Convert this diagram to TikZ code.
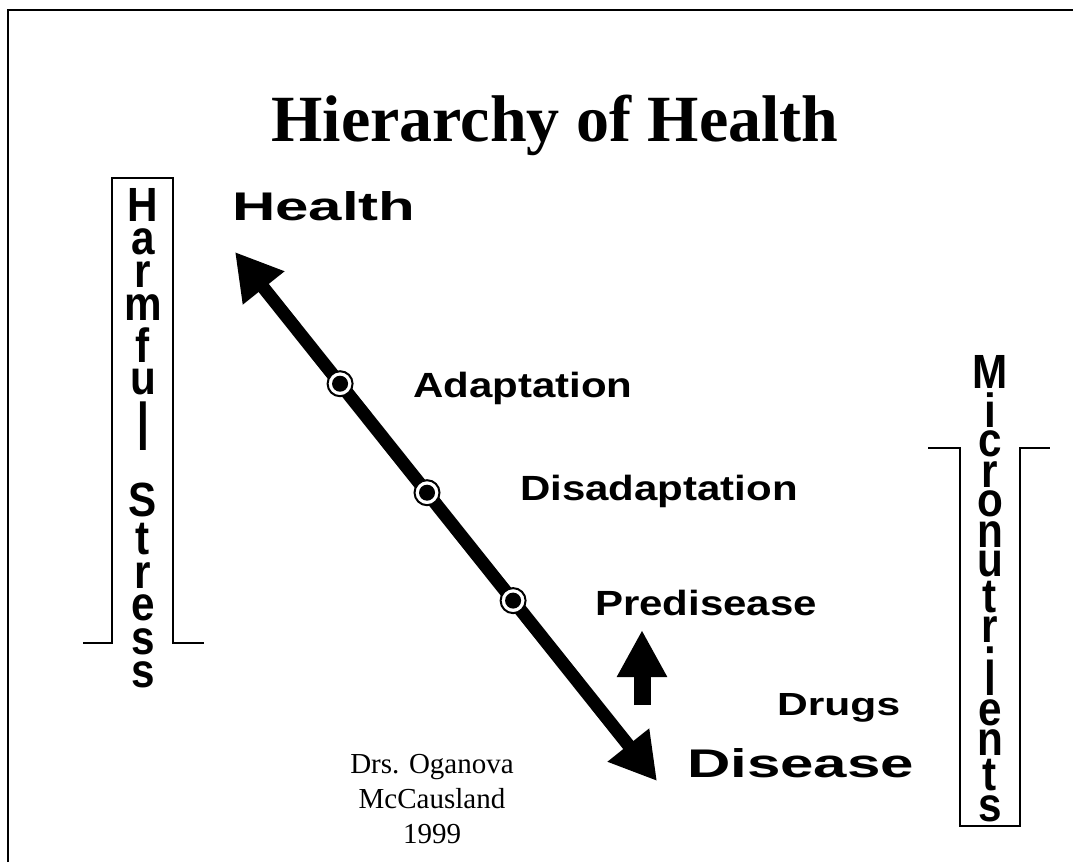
\documentclass[tikz,border=0pt]{standalone}
\usepackage{fontspec}
\setmainfont{Liberation Serif}
\newfontfamily\midfont{Liberation Sans Bold}[FakeStretch=1.2]
\newfontfamily\drugfont{Liberation Sans Bold}[FakeStretch=1.33]
\newfontfamily\bigfont{Liberation Sans Bold}[FakeStretch=1.5]
\newfontfamily\stackfont{Liberation Sans Bold}[FakeStretch=0.88]
\usetikzlibrary{arrows.meta,calc}

% one letter of a vertical word, centred; optional vertical stretch
\newcommand\ltr[2][1]{\hbox to 0pt{\hss\scalebox{1}[#1]{#2}\hss}}

\tikzset{
  title/.style={font=\bfseries\fontsize{66}{66}\selectfont, inner sep=0},
  lblmid/.style={font=\midfont\fontsize{35}{35}\selectfont, inner sep=0, anchor=base west},
  lbldrug/.style={font=\drugfont\fontsize{32}{32}\selectfont, inner sep=0, anchor=base west},
  lblbig/.style={font=\bigfont\fontsize{40}{40}\selectfont, inner sep=0, anchor=base west},
  stackword/.style={font=\stackfont\fontsize{48}{48}\selectfont, inner sep=0, anchor=north},
  credit/.style={font=\fontsize{29}{35}\selectfont, align=center, inner sep=0, anchor=base},
  bracket/.style={line width=2pt},
  dot/.style={circle, draw, line width=2pt, fill=white, minimum size=25pt, inner sep=0}
}

\begin{document}
\begin{tikzpicture}[x=1pt,y=-1pt]
  \useasboundingbox (0,0) rectangle (1073,862);

  % slide frame
  \draw[line width=2.5pt] (8,862) -- (8,10) -- (1073,10);

  \node[title] (title) at (555,125) {Hierarchy of Health};

  % main axis
  \coordinate (top) at (235,252);
  \coordinate (bot) at (657,781);
  \draw[line width=13pt, {Triangle[length=46pt,width=50pt]}-{Triangle[length=46pt,width=50pt]}]
    (bot) -- (top);
  \node[dot] (d1) at ($(top)!0.249!(bot)$) {};
  \node[dot] (d2) at ($(top)!0.455!(bot)$) {};
  \node[dot] (d3) at ($(top)!0.659!(bot)$) {};
  \foreach \d in {d1,d2,d3}
    \fill (\d) circle (8);

  \node[lblbig] (health) at (232,220) {Health};
  \node[lblmid] (adapt) at (413,397) {Adaptation};
  \node[lblmid] (disadapt) at (520,500) {Disadaptation};
  \node[lblmid] (predis) at (595,615) {Predisease};
  \node[lbldrug] (drugs) at (777,715) {Drugs};
  \node[lblbig] (disease) at (687,777) {Disease};

  % drugs push back up
  \coordinate (upfoot) at (642,705);
  \coordinate (uptip) at (642,630);
  \draw[line width=17pt, -{Triangle[length=47pt,width=47pt]}] (upfoot) -- (uptip);

  % base anchor sits on the last line
  \node[credit] (credit) at (432,843) {Drs. Oganova\\McCausland\\1999};

  % harmful stress
  \draw[bracket] (83,643) -- (112,643) -- (112,178) -- (173,178) -- (173,643) -- (204,643);
  \node[stackword] (harm) at (143,188) {\vbox{\baselineskip=-1000pt \lineskiplimit=0pt \lineskip=7pt
    \ltr{H}\ltr{a}\ltr{r}\ltr{m}\ltr{f}\ltr{u}\ltr[1.4]{l}\vskip 25pt
    \ltr{S}\ltr{t}\ltr{r}\ltr{e}\ltr{s}\ltr{s}}};

  % micronutrients
  \draw[bracket] (928,448) -- (960,448) -- (960,826) -- (1020,826) -- (1020,448) -- (1050,448);
  \node[stackword] (micro) at (990,355) {\vbox{\baselineskip=-1000pt \lineskiplimit=0pt \lineskip=4pt
    \ltr{M}\ltr{i}\ltr{c}\ltr{r}\ltr{o}\ltr{n}\ltr{u}\ltr{t}\ltr{r}\ltr[1.4]{i}
    \ltr{e}\ltr{n}\ltr{t}\ltr{s}}};
\end{tikzpicture}
\end{document}
